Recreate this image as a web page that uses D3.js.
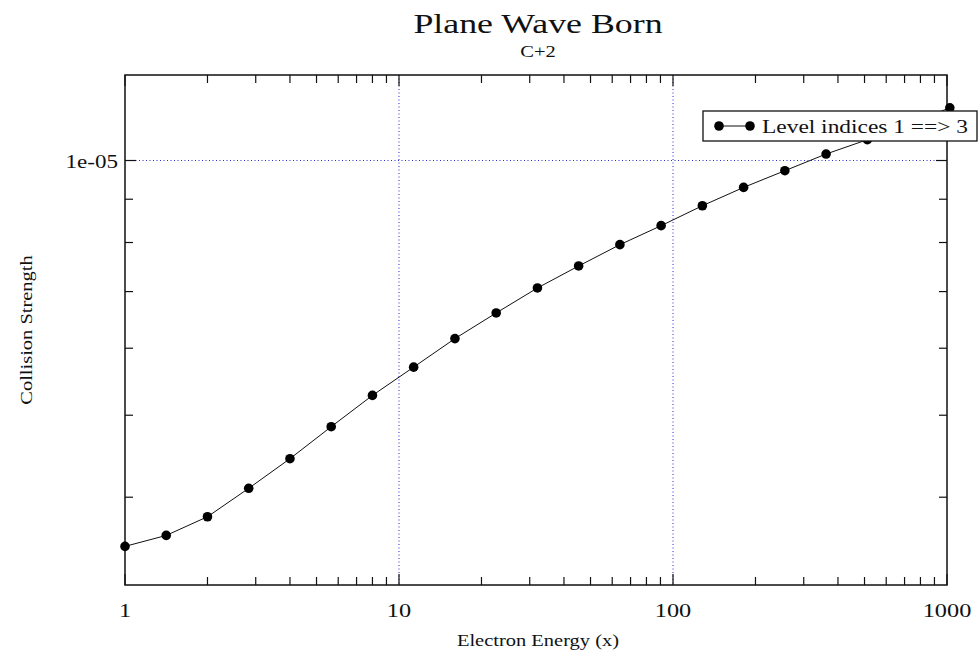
<!DOCTYPE html>
<html>
<head>
<meta charset="utf-8">
<script src="https://cdn.jsdelivr.net/npm/d3@7/dist/d3.min.js"></script>
<style>
  html, body { margin: 0; padding: 0; background: #fff; }
  svg { display: block; }
  text { font-family: "Liberation Serif", "Times New Roman", serif; fill: #111; }
</style>
</head>
<body>
<svg id="chart" width="980" height="656"></svg>
<script>
// ---- data ----
const titleText = "Plane Wave Born";
const subtitleText = "C+2";
const xLabel = "Electron Energy (x)";
const yLabel = "Collision Strength";
const seriesName = "Level indices 1 ==> 3";
const energies = [1, 1.414, 2, 2.828, 4, 5.657, 8, 11.31, 16, 22.63, 32, 45.25, 64, 90.51, 128, 181.0, 256, 362.0, 512, 724.1, 1024];
const strengths = [3.499e-6, 3.605e-6, 3.793e-6, 4.098e-6, 4.442e-6, 4.846e-6, 5.277e-6, 5.699e-6, 6.159e-6, 6.604e-6, 7.069e-6, 7.505e-6, 7.953e-6, 8.375e-6, 8.842e-6, 9.294e-6, 9.726e-6, 1.0178e-5, 1.0583e-5, 1.105e-5, 1.154e-5];
const xMajorTicks = [1, 10, 100, 1000];
const xTickLabels = ["1", "10", "100", "1000"];
const yMajorTicks = [1e-5];
const yTickLabels = ["1e-05"];
const xDomain = [1, 1000];
const yDomain = [3.15e-6, 1.262e-5];

// ---- layout ----
const L = 125, R = 947, T = 75, B = 585;
const SX = 1.28; // horizontal text stretch of the original

const svg = d3.select("#chart");
const x = d3.scaleLog().domain(xDomain).range([L, R]);
const y = d3.scaleLog().domain(yDomain).range([B, T]);

function stretchedText(parent, tx, ty, str, size, anchor, rot) {
  const g = parent.append("g")
    .attr("transform", `translate(${tx},${ty})` + (rot ? ` rotate(${rot})` : "") + ` scale(${SX},1)`);
  g.append("text").attr("x", 0).attr("y", 0)
    .attr("text-anchor", anchor).style("font-size", size + "px").text(str);
  return g;
}

// grid (dotted blue) at major ticks inside plot
const gridColor = "#2a2ad0";
svg.append("g").selectAll("line.gx")
  .data(xMajorTicks.filter(d => d > xDomain[0] && d < xDomain[1]))
  .join("line")
  .attr("x1", d => x(d)).attr("x2", d => x(d))
  .attr("y1", T).attr("y2", B)
  .attr("stroke", gridColor).attr("stroke-width", 1).attr("stroke-dasharray", "1,2.5");
svg.append("g").selectAll("line.gy")
  .data(yMajorTicks)
  .join("line")
  .attr("x1", L).attr("x2", R)
  .attr("y1", d => y(d)).attr("y2", d => y(d))
  .attr("stroke", gridColor).attr("stroke-width", 1).attr("stroke-dasharray", "1,2.5");

// minor ticks
const xMinor = [];
[1, 10, 100].forEach(dec => { for (let m = 2; m <= 9; m++) xMinor.push(dec * m); });
const yMinor = [];
[1e-6, 1e-5].forEach(dec => { for (let m = 1; m <= 9; m++) { const v = dec * m; if (v > yDomain[0] && v < yDomain[1]) yMinor.push(v); } });

const tk = svg.append("g").attr("stroke", "#111").attr("stroke-width", 1.2);
const minorLen = 8, majorLen = 11;
xMinor.forEach(v => {
  tk.append("line").attr("x1", x(v)).attr("x2", x(v)).attr("y1", B).attr("y2", B - minorLen);
  tk.append("line").attr("x1", x(v)).attr("x2", x(v)).attr("y1", T).attr("y2", T + minorLen);
});
xMajorTicks.forEach(v => {
  tk.append("line").attr("x1", x(v)).attr("x2", x(v)).attr("y1", B).attr("y2", B - majorLen);
  tk.append("line").attr("x1", x(v)).attr("x2", x(v)).attr("y1", T).attr("y2", T + majorLen);
});
yMinor.forEach(v => {
  const isMajor = yMajorTicks.includes(v);
  const len = isMajor ? majorLen : minorLen;
  tk.append("line").attr("x1", L).attr("x2", L + len).attr("y1", y(v)).attr("y2", y(v));
  tk.append("line").attr("x1", R).attr("x2", R - len).attr("y1", y(v)).attr("y2", y(v));
});

// frame
svg.append("rect").attr("x", L).attr("y", T).attr("width", R - L).attr("height", B - T)
  .attr("fill", "none").attr("stroke", "#111").attr("stroke-width", 1.5);

// series
const pts = energies.map((e, i) => [e, strengths[i]]);
svg.append("path").datum(pts)
  .attr("fill", "none").attr("stroke", "#111").attr("stroke-width", 1)
  .attr("d", d3.line().x(d => x(d[0])).y(d => y(d[1])));
svg.append("g").selectAll("circle").data(pts).join("circle")
  .attr("cx", d => x(d[0])).attr("cy", d => y(d[1])).attr("r", 4.8).attr("fill", "#000");

// tick labels
xMajorTicks.forEach((v, i) => stretchedText(svg, x(v), 617, xTickLabels[i], 19, "middle"));
yMajorTicks.forEach((v, i) => stretchedText(svg, L - 7, y(v) + 7, yTickLabels[i], 18, "end"));

// titles
stretchedText(svg, (L + R) / 2 + 2, 33, titleText, 28, "middle");
stretchedText(svg, (L + R) / 2 + 2, 57, subtitleText, 16, "middle");
stretchedText(svg, (L + R) / 2 + 2, 646, xLabel, 16, "middle");
// y label (rotated): stretch along its length
const gy = svg.append("g").attr("transform", `translate(32,330) rotate(-90) scale(${SX},1)`);
gy.append("text").attr("text-anchor", "middle").style("font-size", "16px").text(yLabel);

// legend
const lg = svg.append("g");
lg.append("rect").attr("x", 703).attr("y", 111).attr("width", 274).attr("height", 30)
  .attr("fill", "#fff").attr("stroke", "#111").attr("stroke-width", 1.3);
lg.append("line").attr("x1", 719).attr("x2", 750).attr("y1", 126).attr("y2", 126)
  .attr("stroke", "#111").attr("stroke-width", 1);
[719, 750].forEach(cx => lg.append("circle").attr("cx", cx).attr("cy", 126).attr("r", 4.8).attr("fill", "#000"));
stretchedText(lg, 762, 133, seriesName, 18.3, "start");
</script>
</body>
</html>
